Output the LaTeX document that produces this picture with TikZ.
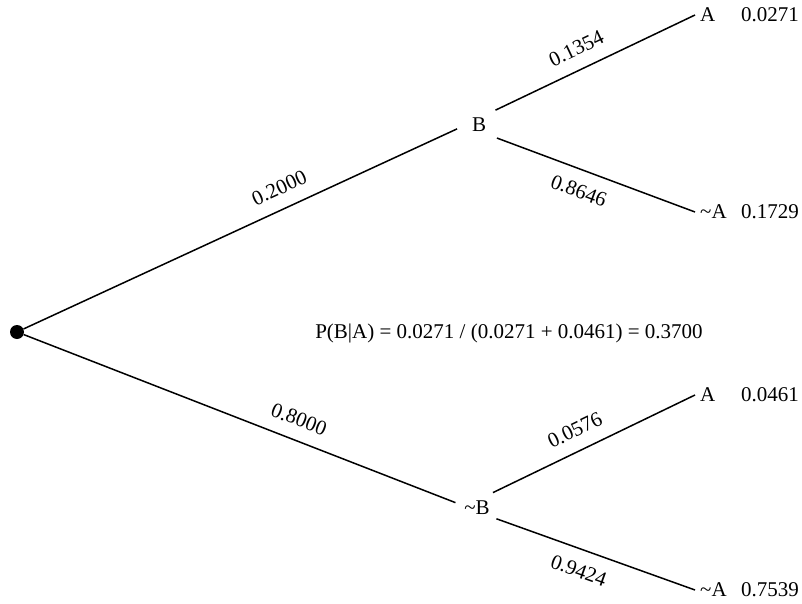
\documentclass[tikz,border=0pt]{standalone}
\usepackage{fontspec}
\setmainfont{Liberation Serif}
\usetikzlibrary{positioning}
\tikzset{
        every node/.style={font=\fontsize{21}{25}\selectfont},
        branch/.style={circle, minimum size=44pt, inner sep=0pt},
        leaf/.style={anchor=west, inner xsep=5pt, inner ysep=0pt},
        prob/.style={anchor=east, inner sep=0pt},
        weight/.style={sloped, inner xsep=0pt, inner ysep=13pt},
        edge/.style={line width=1.5pt}
        }
\begin{document}
\begin{tikzpicture}[x=1pt, y=-1pt]
        \useasboundingbox (0,0) rectangle (802,604);
        \node[circle, fill, minimum size=14pt, inner sep=0pt](root) at (17,332){};
        \node[branch](b) at (479,125){B};
        \node[branch](nb) at (477,508){\textasciitilde B};
        % outcomes
        \node[leaf](b-a) at (695,15){A};
        \node[leaf](b-na) at (695,212){\textasciitilde A};
        \node[leaf](nb-a) at (695,395){A};
        \node[leaf](nb-na) at (695,590){\textasciitilde A};
        \node[prob](p-b-a) at (799,15){0.0271};
        \node[prob](p-b-na) at (799,212){0.1729};
        \node[prob](p-nb-a) at (799,395){0.0461};
        \node[prob](p-nb-na) at (799,590){0.7539};
        \node[anchor=base](bayes) at (509,338){P(B|A) = 0.0271 / (0.0271 + 0.0461) = 0.3700};

        \draw[edge] (root.25) -- node[weight, above, pos=0.61]{0.2000} (b.190)
              (root.-21) -- node[weight, above, pos=0.62]{0.8000} (nb.166)
              (b.42) -- node[weight, above, pos=0.45]{0.1354} (b-a.west)
              (b.-36) -- node[weight, below, pos=0.45]{0.8646} (b-na.west)
              (nb.44) -- node[weight, above, pos=0.45]{0.0576} (nb-a.west)
              (nb.-29) -- node[weight, below, pos=0.45]{0.9424} (nb-na.west);
\end{tikzpicture}
\end{document}
